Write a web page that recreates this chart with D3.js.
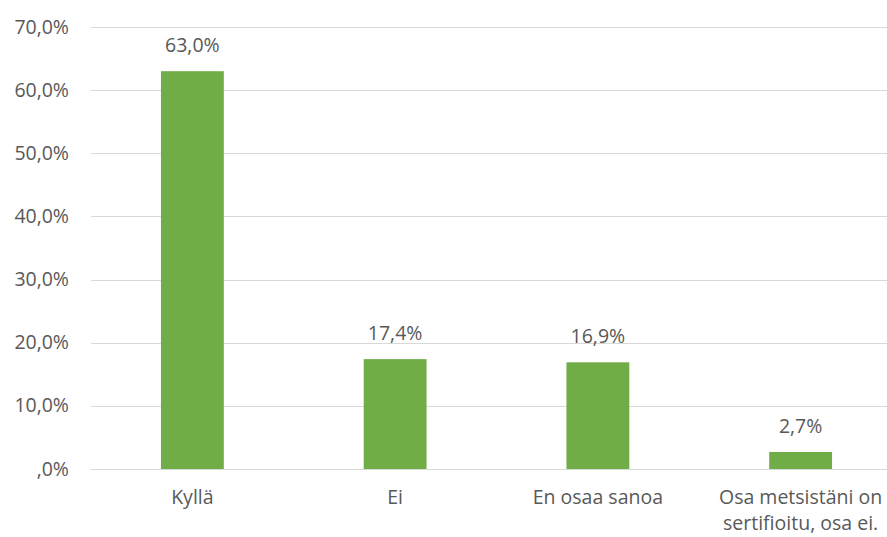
<!DOCTYPE html>
<html><head><meta charset="utf-8">
<script src="https://cdn.jsdelivr.net/npm/d3@7"></script>
<style>body{margin:0;background:#fff}svg{display:block}text{font-family:"Open Sans","Liberation Sans",sans-serif;fill:#595959}</style>
</head><body><svg id="c" width="887" height="537"></svg>
<script>
const categories = [["Kyllä"], ["Ei"], ["En osaa sanoa"], ["Osa metsistäni on", "sertifioitu, osa ei."]];
const values = [63.0, 17.4, 16.9, 2.7];
const valueLabels = ["63,0%", "17,4%", "16,9%", "2,7%"];
const yTicks = [0, 10, 20, 30, 40, 50, 60, 70];
const yTickLabels = [",0%", "10,0%", "20,0%", "30,0%", "40,0%", "50,0%", "60,0%", "70,0%"];

(function () {
const svg = d3.select("#c");
const pL = 91, pR = 902, pT = 27, pB = 469;
const fs = 19.5;
const x = d3.scaleBand().domain(d3.range(categories.length)).range([pL, pR]).paddingInner(0.69).paddingOuter(0.345);
const y = d3.scaleLinear().domain([0, 70]).range([pB, pT]);

const g = svg.append("g");
g.selectAll("line.grid").data(yTicks).join("line")
  .attr("x1", pL).attr("x2", 887)
  .attr("y1", d => Math.round(y(d)) + 0.5).attr("y2", d => Math.round(y(d)) + 0.5)
  .attr("stroke", "#d9d9d9").attr("stroke-width", 1);

g.selectAll("text.yl").data(yTicks).join("text")
  .attr("x", 69).attr("y", d => y(d) + 6.5)
  .attr("text-anchor", "end").attr("font-size", fs)
  .text((d, i) => yTickLabels[i]);

g.selectAll("rect").data(values).join("rect")
  .attr("x", (d, i) => x(i)).attr("width", x.bandwidth())
  .attr("y", d => y(d)).attr("height", d => pB - y(d))
  .attr("fill", "#70ad47");

g.selectAll("text.vl").data(values).join("text")
  .attr("x", (d, i) => x(i) + x.bandwidth() / 2).attr("y", d => y(d) - 19)
  .attr("text-anchor", "middle").attr("font-size", fs)
  .text((d, i) => valueLabels[i]);

categories.forEach((lines, i) => {
  lines.forEach((t, j) => {
    g.append("text").attr("x", x(i) + x.bandwidth() / 2).attr("y", 504 + j * 26)
      .attr("text-anchor", "middle").attr("font-size", fs).text(t);
  });
});
})();
</script></body></html>
